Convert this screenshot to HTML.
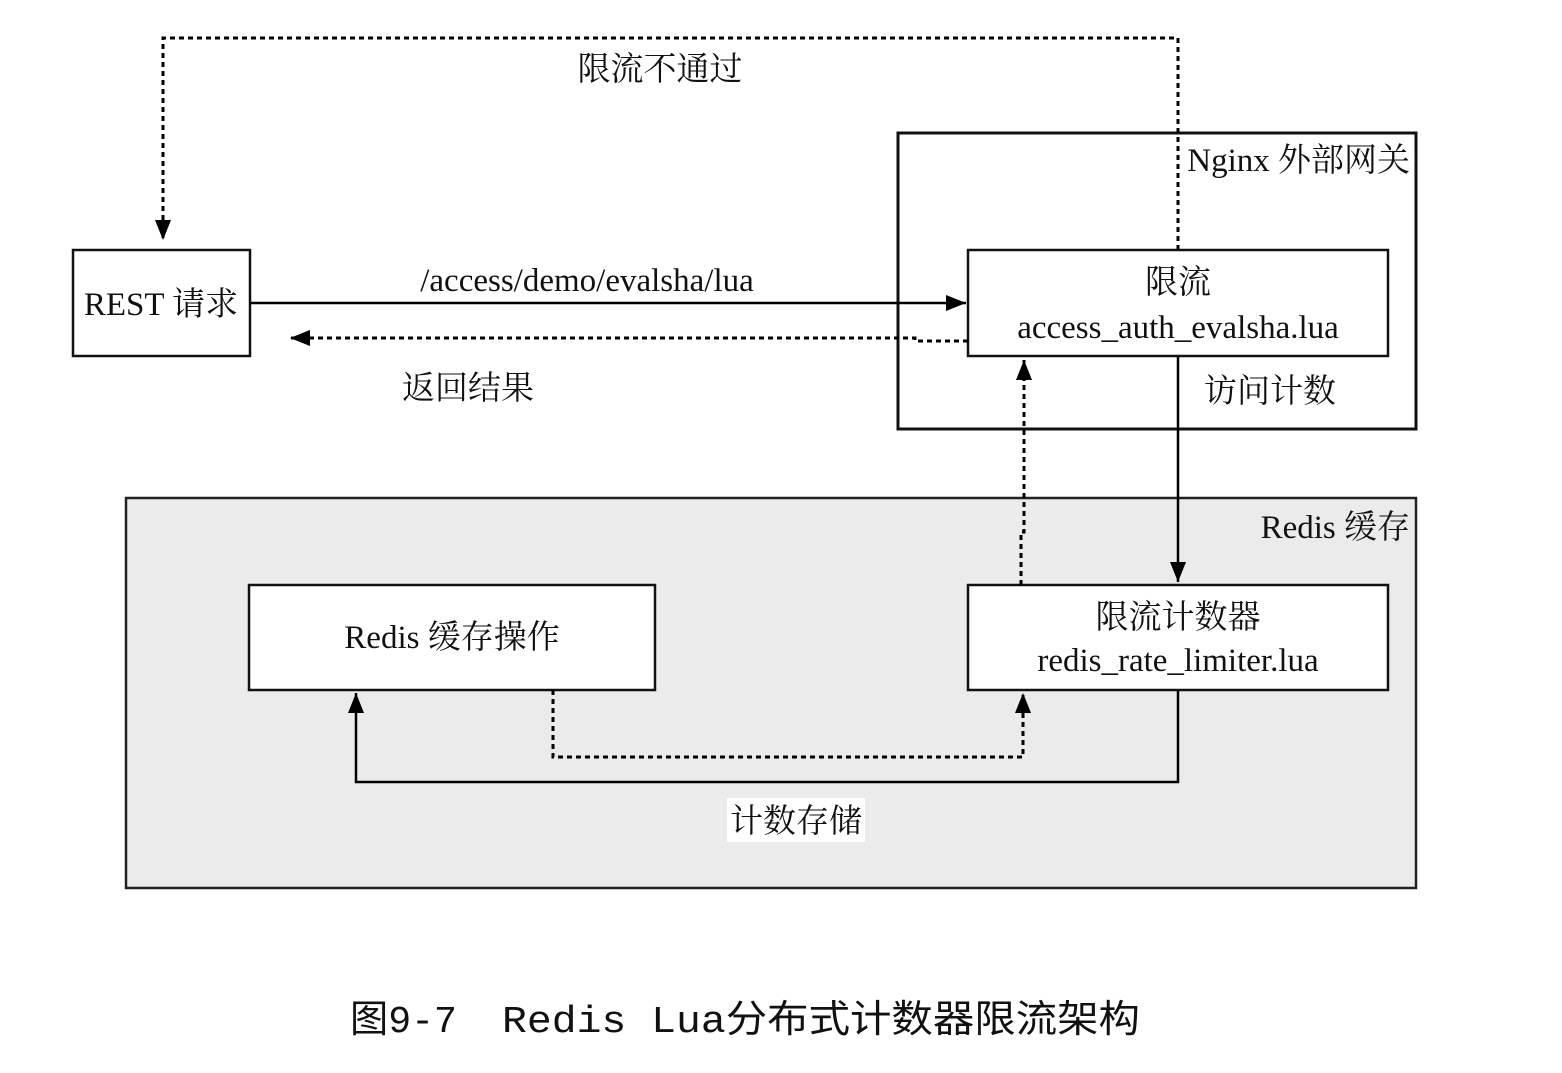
<!DOCTYPE html>
<html><head><meta charset="utf-8"><style>
html,body{margin:0;padding:0;background:#fff}
svg text{font-family:"Liberation Serif","Noto Serif CJK SC","Noto Sans CJK SC",serif;font-size:33px;fill:#111}
</style></head><body>
<svg width="1562" height="1068" viewBox="0 0 1562 1068" xmlns="http://www.w3.org/2000/svg">
<defs>
<marker id="b" markerWidth="20" markerHeight="16" refX="20" refY="8" orient="auto" markerUnits="userSpaceOnUse">
<path d="M0,0 L20,8 L0,16 z" fill="#000"/></marker>
</defs>
<rect x="126" y="498" width="1290" height="390" fill="#ebebeb" stroke="#222" stroke-width="2.5"/>
<text x="1410" y="538" text-anchor="end">Redis 缓存</text>
<rect x="898" y="133" width="518" height="296" fill="#fff" stroke="#111" stroke-width="3"/>
<text x="1410" y="171" text-anchor="end">Nginx 外部网关</text>
<path d="M1178,250 L1178,38 L163,38 L163,240" fill="none" stroke="#000" stroke-width="3" stroke-dasharray="5,4" marker-end="url(#b)"/>
<text x="660" y="80" text-anchor="middle">限流不通过</text>
<rect x="73" y="250" width="177" height="106" fill="#fff" stroke="#111" stroke-width="2.5"/>
<text x="161" y="315" text-anchor="middle">REST 请求</text>
<rect x="968" y="250" width="420" height="106" fill="#fff" stroke="#111" stroke-width="2.5"/>
<text x="1178" y="293" text-anchor="middle">限流</text>
<text x="1178" y="338" text-anchor="middle">access_auth_evalsha.lua</text>
<line x1="250" y1="303" x2="966" y2="303" stroke="#000" stroke-width="2.5" marker-end="url(#b)"/>
<text x="587" y="291" text-anchor="middle">/access/demo/evalsha/lua</text>
<path d="M968,341 L915,341 L915,338 L290,338" fill="none" stroke="#000" stroke-width="3" stroke-dasharray="5,4" marker-end="url(#b)"/>
<text x="468" y="399" text-anchor="middle">返回结果</text>
<text x="1270" y="402" text-anchor="middle">访问计数</text>
<line x1="1178" y1="356" x2="1178" y2="582" stroke="#000" stroke-width="2.5" marker-end="url(#b)"/>
<rect x="249" y="585" width="406" height="105" fill="#fff" stroke="#111" stroke-width="2.5"/>
<text x="452" y="648" text-anchor="middle">Redis 缓存操作</text>
<rect x="968" y="585" width="420" height="105" fill="#fff" stroke="#111" stroke-width="2.5"/>
<text x="1178" y="628" text-anchor="middle">限流计数器</text>
<text x="1178" y="671" text-anchor="middle">redis_rate_limiter.lua</text>
<path d="M1021,585 L1021,532 L1024,532 L1024,360" fill="none" stroke="#000" stroke-width="3" stroke-dasharray="5,4" marker-end="url(#b)"/>
<path d="M553,690 L553,757 L1023,757 L1023,693" fill="none" stroke="#000" stroke-width="3" stroke-dasharray="5,4" marker-end="url(#b)"/>
<path d="M1178,690 L1178,782 L356,782 L356,693" fill="none" stroke="#000" stroke-width="2.5" marker-end="url(#b)"/>
<rect x="727" y="798" width="138" height="44" fill="#fff"/>
<text x="796" y="832" text-anchor="middle">计数存储</text>
<text x="350" y="1032" textLength="107" lengthAdjust="spacingAndGlyphs" style="font-family:'Liberation Mono','Noto Sans CJK SC',monospace;font-size:38px">图9-7</text>
<text x="502" y="1032" textLength="638" lengthAdjust="spacingAndGlyphs" style="font-family:'Liberation Mono','Noto Sans CJK SC',monospace;font-size:38px">Redis Lua分布式计数器限流架构</text>
</svg>
</body></html>
